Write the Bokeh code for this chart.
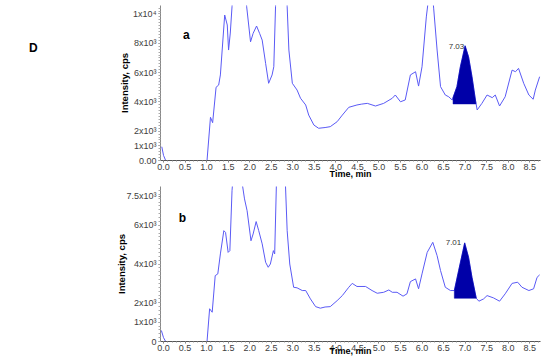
import numpy as np
from bokeh.plotting import figure
from bokeh.models import FixedTicker, Label, Range1d, Div
from bokeh.layouts import column, row
from bokeh.embed import file_html
from bokeh.resources import INLINE

# ---------------- data ----------------
x_ticks = [0.0, 0.5, 1.0, 1.5, 2.0, 2.5, 3.0, 3.5, 4.0, 4.5, 5.0, 5.5, 6.0, 6.5, 7.0, 7.5, 8.0, 8.5]
x_tick_labels = ["0.0", "0.5", "1.0", "1.5", "2.0", "2.5", "3.0", "3.5", "4.0", "4.5",
                 "5.0", "5.5", "6.0", "6.5", "7.0", "7.5", "8.0", "8.5"]

# panel a
a_time = [-0.04, 0.0, 0.05, 1.01, 1.09, 1.14, 1.22, 1.28, 1.32, 1.42, 1.48, 1.51, 1.55, 1.59, 1.75,
          1.93, 2.02, 2.08, 2.16, 2.23, 2.29, 2.37, 2.44, 2.52, 2.56, 2.6, 2.72, 2.87, 2.91, 2.99,
          3.1, 3.18, 3.3, 3.37, 3.49, 3.6, 3.75, 3.87, 4.03, 4.15, 4.3, 4.49, 4.6, 4.73, 4.92,
          5.11, 5.31, 5.38, 5.5, 5.61, 5.73, 5.85, 5.92, 6.0, 6.1, 6.21, 6.27, 6.35, 6.43, 6.54,
          6.62, 6.7, 6.81, 6.89, 7.0, 7.08, 7.16, 7.24, 7.28, 7.39, 7.51, 7.63, 7.7, 7.8, 7.93,
          8.09, 8.17, 8.24, 8.36, 8.48, 8.58, 8.63, 8.73]
a_int = [940, 350, 0, 0, 2950, 2580, 5000, 5150, 5840, 9930, 9250, 7540, 8700, 10500, 18000,
         10500, 8100, 8680, 9180, 8680, 8220, 6630, 5270, 5840, 6400, 10500, 25000, 10500, 7540, 5270,
         4810, 4250, 3790, 3100, 2420, 2200, 2250, 2310, 2650, 3100, 3630, 3790, 3850, 3900, 3720,
         3900, 4250, 4470, 4010, 4130, 5840, 6060, 5080, 6400, 9800, 12500, 10400, 7540, 5040, 4470,
         4350, 4130, 5040, 6400, 7830, 7080, 5720, 4130, 3450, 3900, 4470, 4290, 4470, 3720, 4350,
         6170, 6060, 6290, 5270, 4470, 4180, 4810, 5720]
a_y_ticks = [0, 1000, 2000, 4000, 6000, 8000, 10000]
a_y_labels = ["0.00", "1x10³", "2x10³", "4x10³", "6x10³", "8x10³", "1x10⁴"]
a_peak_rt = "7.03"
a_peak_start, a_peak_end, a_peak_base = 6.72, 7.25, 3860

# panel b
b_time = [-0.05, 0.0, 0.05, 1.01, 1.07, 1.13, 1.2, 1.26, 1.32, 1.4, 1.44, 1.5, 1.54, 1.59, 1.7,
          1.83, 1.88, 1.94, 2.03, 2.08, 2.15, 2.21, 2.29, 2.37, 2.43, 2.48, 2.55, 2.58, 2.62, 2.72,
          2.83, 2.87, 2.93, 3.02, 3.1, 3.22, 3.3, 3.41, 3.53, 3.64, 3.75, 3.87, 4.03, 4.15, 4.3,
          4.38, 4.49, 4.69, 4.84, 4.96, 5.11, 5.23, 5.31, 5.42, 5.56, 5.65, 5.73, 5.85, 5.92, 6.0,
          6.12, 6.25, 6.35, 6.43, 6.54, 6.66, 6.75, 6.85, 6.99, 7.08, 7.16, 7.26, 7.32, 7.43, 7.51,
          7.66, 7.8, 7.93, 8.09, 8.22, 8.32, 8.48, 8.59, 8.67, 8.73]
b_int = [570, 200, 0, 0, 1690, 1510, 3400, 3490, 4520, 5720, 5630, 4600, 4690, 7780, 11000,
         8100, 7360, 6750, 5200, 5550, 6190, 5720, 5040, 4090, 3830, 4000, 4690, 4520, 8100, 16000,
         8100, 5720, 4000, 2800, 2770, 2630, 2630, 2200, 1800, 1720, 1780, 1800, 2110, 2370, 2800,
         3000, 2840, 2840, 2630, 2490, 2540, 2660, 2540, 2540, 2340, 2460, 3090, 3230, 2720, 3490,
         4600, 5120, 4430, 3660, 2800, 2630, 2630, 3660, 5090, 4350, 3310, 2230, 2080, 2200, 2370,
         2250, 2080, 2460, 3000, 3060, 2800, 2630, 2720, 3310, 3440]
b_y_ticks = [0, 1000, 2000, 4000, 6000, 7500]
b_y_labels = ["0", "1x10³", "2x10³", "4x10³", "6x10³", "7.5x10³"]
b_peak_rt = "7.01"
b_peak_start, b_peak_end, b_peak_base = 6.75, 7.26, 2230

LINE = "#5a5af5"
FILL = "#0000a8"
FONT = "Liberation Sans"
D_WIDTH = 40
TOTAL_W = 550
A_H = 181
B_H = 178


def peak_patch(t, y, start, end, base):
    t = np.asarray(t, float)
    y = np.asarray(y, float)
    inner = (t > start) & (t < end)
    xs = [start, start] + list(t[inner]) + [end, end]
    ys = [base, float(np.interp(start, t, y))] + list(y[inner]) + [float(np.interp(end, t, y)), base]
    return xs, ys


def panel(t, y, yticks, ylabels, ymax, width, height, left, top, bottom, xlab_standoff,
          ylab_standoff, pk, letter, letter_pos, rt_pos):
    p = figure(width=width, height=height, x_range=Range1d(-0.07, 8.75), y_range=Range1d(0, ymax),
               output_backend="svg", toolbar_location=None,
               min_border_left=left, min_border_right=10, min_border_top=top, min_border_bottom=bottom)
    p.outline_line_color = None
    p.grid.visible = False
    p.background_fill_color = "white"

    xa = p.xaxis[0]
    xa.ticker = FixedTicker(ticks=x_ticks, minor_ticks=list(np.arange(0, 8.75, 0.1)))
    xa.major_label_overrides = {v: s for v, s in zip(x_ticks, x_tick_labels)}
    xa.axis_line_color = "#555555"
    xa.major_tick_line_color = "#777777"
    xa.minor_tick_line_color = "#999999"
    xa.major_tick_out = 2
    xa.major_tick_in = 0
    xa.minor_tick_out = 1
    xa.minor_tick_in = 0
    xa.major_label_standoff = 1
    xa.major_label_text_font = FONT
    xa.major_label_text_font_size = "9px"
    xa.major_label_text_color = "#404040"
    xa.axis_label = "Time, min"
    xa.axis_label_standoff = xlab_standoff
    xa.axis_label_text_font = FONT
    xa.axis_label_text_font_size = "9px"
    xa.axis_label_text_font_style = "bold"
    xa.axis_label_text_color = "#000000"

    ya = p.yaxis[0]
    ya.ticker = FixedTicker(ticks=yticks, minor_ticks=list(np.arange(0, ymax, 200)))
    ya.major_label_overrides = {v: s for v, s in zip(yticks, ylabels)}
    ya.axis_line_color = "#888888"
    ya.major_tick_line_color = "#888888"
    ya.minor_tick_line_color = "#aaaaaa"
    ya.major_tick_out = 2
    ya.major_tick_in = 0
    ya.minor_tick_out = 2
    ya.minor_tick_in = 0
    ya.major_label_standoff = 2
    ya.major_label_text_font = FONT
    ya.major_label_text_font_size = "9px"
    ya.major_label_text_color = "#404040"
    ya.axis_label = "Intensity, cps"
    ya.axis_label_standoff = ylab_standoff
    ya.axis_label_text_font = FONT
    ya.axis_label_text_font_size = "9.5px"
    ya.axis_label_text_font_style = "bold"
    ya.axis_label_text_color = "#000000"

    p.line(t, y, line_color=LINE, line_width=1)
    xs, ys = peak_patch(t, y, *pk)
    p.patch(xs, ys, fill_color=FILL, line_color=FILL, line_width=0.5)

    p.add_layout(Label(x=letter_pos[0], y=letter_pos[1], text=letter, text_font=FONT,
                       text_font_size="12px", text_font_style="bold", text_color="#000000",
                       text_align="center", text_baseline="middle"))
    p.add_layout(Label(x=rt_pos[0], y=rt_pos[1], text=rt_pos[2], text_font=FONT,
                       text_font_size="8px", text_color="#333333",
                       text_align="center", text_baseline="middle"))
    return p


pa = panel(a_time, a_int, a_y_ticks, a_y_labels, 10580, TOTAL_W - D_WIDTH, A_H, 160 - D_WIDTH, 5, 21,
           -4, 0, (a_peak_start, a_peak_end, a_peak_base), "a", (0.53, 8570),
           (6.80, 7800, a_peak_rt))

pb = panel(b_time, b_int, b_y_ticks, b_y_labels, 8000, TOTAL_W, B_H, 160, 5, 18,
           -8, -4, (b_peak_start, b_peak_end, b_peak_base), "b", (0.44, 6400),
           (6.73, 5100, b_peak_rt))

d_label = Div(text='<div style="margin-left:29px;margin-top:40px;">D</div>',
              width=D_WIDTH, height=A_H,
              styles={"font-family": FONT, "font-size": "12px", "font-weight": "bold",
                      "color": "#000000", "overflow": "hidden", "padding": "0px", "margin": "0px"})

layout = column(row(d_label, pa, spacing=0), pb, spacing=0)
open("out.html", "w").write(file_html(layout, INLINE))
